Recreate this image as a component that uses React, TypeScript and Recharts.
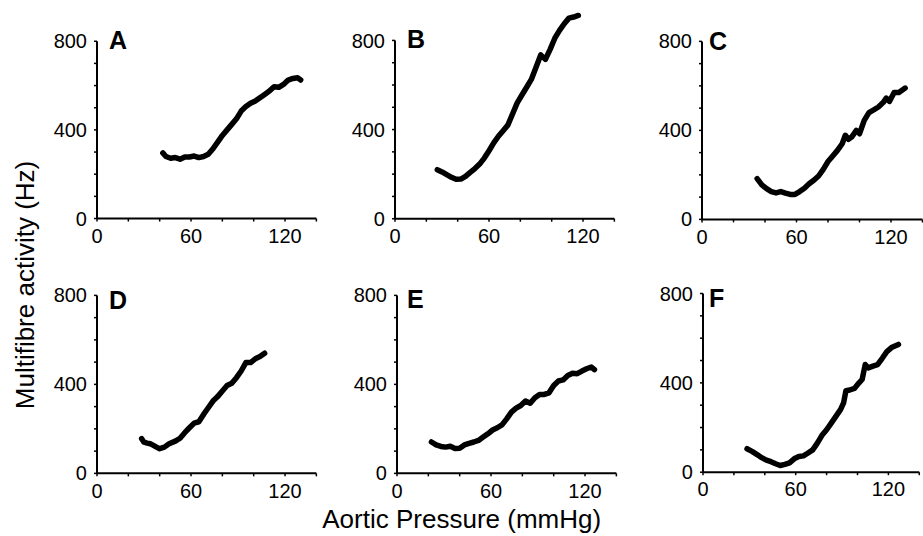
import React from 'react';
import { LineChart, Line, XAxis, YAxis, ReferenceLine } from 'recharts';

const FONT = '"Liberation Sans", Arial, Helvetica, sans-serif';

// Aortic pressure (mmHg) and multifibre activity (Hz) per panel
const aPressure = [42, 44, 47, 50, 53, 56, 59, 62, 65, 68, 71, 74, 77, 80, 83, 86, 89, 92, 95, 98, 101, 104, 107, 110, 113, 116, 119, 122, 125, 128, 130];
const aActivity = [296, 280, 272, 275, 268, 278, 278, 282, 275, 280, 290, 315, 345, 375, 400, 425, 450, 485, 505, 520, 530, 545, 560, 575, 595, 592, 605, 625, 632, 635, 625];

const bPressure = [27, 30, 33, 36, 39, 42, 45, 48, 51, 54, 57, 60, 63, 66, 69, 72, 75, 78, 81, 84, 87, 90, 93, 96, 99, 102, 105, 108, 111, 114, 117];
const bActivity = [220, 210, 198, 186, 177, 178, 190, 208, 225, 245, 272, 305, 340, 370, 395, 420, 470, 520, 555, 590, 625, 680, 735, 715, 760, 810, 845, 875, 900, 905, 912];

const cPressure = [35, 38, 41, 44, 47, 50, 53, 56, 59, 62, 65, 68, 71, 74, 77, 80, 83, 86, 89, 91, 93, 95, 98, 100, 103, 106, 109, 112, 115, 117, 119, 122, 125, 129];
const cActivity = [183, 155, 138, 125, 119, 125, 118, 112, 112, 125, 140, 160, 176, 195, 225, 260, 285, 310, 340, 378, 360, 370, 400, 385, 445, 480, 492, 505, 525, 545, 530, 570, 570, 590];

const dPressure = [28.5, 30, 32, 34, 36, 38, 40, 43, 46, 50, 53, 56, 59, 62, 65, 68, 71, 74, 77, 80, 83, 86, 89, 92, 95, 98, 101, 104, 107];
const dActivity = [156, 140, 136, 133, 126, 118, 111, 118, 133, 145, 158, 183, 205, 226, 232, 265, 295, 325, 345, 370, 395, 405, 430, 460, 498, 498, 515, 525, 540];

const ePressure = [22, 25, 28, 31, 34, 37, 40, 43, 46, 49, 52, 55, 58, 61, 64, 67, 70, 73, 76, 79, 82, 85, 88, 91, 94, 97, 100, 103, 106, 109, 112, 115, 118, 121, 124, 126];
const eActivity = [141, 128, 121, 118, 122, 112, 113, 128, 135, 141, 148, 163, 178, 195, 205, 218, 245, 275, 293, 305, 325, 315, 340, 355, 355, 362, 395, 415, 420, 440, 450, 448, 460, 470, 478, 466];

const fPressure = [28.5, 32, 35, 38, 41, 44, 47, 50, 53, 56, 59, 62, 65, 68, 71, 74, 77, 80, 83, 86, 89, 91, 92.5, 95, 98, 101, 103, 105, 107, 110, 113, 116, 119, 122, 126.5];
const fActivity = [105, 92, 79, 65, 54, 47, 38, 30, 35, 42, 60, 70, 73, 86, 100, 130, 165, 190, 220, 250, 280, 310, 365, 368, 375, 400, 415, 482, 467, 475, 482, 510, 540, 558, 572];

const xTicks = [0, 20, 40, 60, 80, 100, 120, 140];
const xTickLabels = [0, 60, 120];
const yTicks = [0, 100, 200, 300, 400, 500, 600, 700, 800];
const yTickLabels = [0, 400, 800];
const panelLetters = ['A', 'B', 'C', 'D', 'E', 'F'];
const xTitle = 'Aortic Pressure (mmHg)';
const yTitle = 'Multifibre activity (Hz)';

const build = (xs: number[], ys: number[]) => xs.map((x, i) => ({ x, y: ys[i] }));
const panelData = [
  build(aPressure, aActivity),
  build(bPressure, bActivity),
  build(cPressure, cActivity),
  build(dPressure, dActivity),
  build(ePressure, eActivity),
  build(fPressure, fActivity),
];

type Layout = { axisX: number; y0: number; y800: number; xs: number; lx: number; ly: number };
const layouts: Layout[] = [
  { axisX: 97, y0: 219, y800: 41.7, xs: 1.567, lx: 109, ly: 48.5 },
  { axisX: 395, y0: 219, y800: 40.7, xs: 1.567, lx: 407, ly: 47.5 },
  { axisX: 702, y0: 219, y800: 41, xs: 1.575, lx: 709, ly: 49.5 },
  { axisX: 97, y0: 473, y800: 295, xs: 1.567, lx: 109, ly: 308.5 },
  { axisX: 397, y0: 473, y800: 295, xs: 1.567, lx: 407, ly: 307.5 },
  { axisX: 703, y0: 472.7, y800: 294, xs: 1.545, lx: 709, ly: 307 },
];

const renderXTick = (props: any) => {
  const { x, y, payload } = props;
  if (!xTickLabels.includes(payload.value)) return <g />;
  return (
    <text x={x} y={y} dy="0.71em" textAnchor="middle" fontFamily={FONT} fontSize={20} fill="#000">
      {payload.value}
    </text>
  );
};

const renderYTick = (props: any) => {
  const { x, y, payload } = props;
  if (!yTickLabels.includes(payload.value)) return <g />;
  return (
    <text x={x} y={y} dy="0.355em" textAnchor="end" fontFamily={FONT} fontSize={20} fill="#000">
      {payload.value}
    </text>
  );
};

const YMAX = 950;

function Panel({ data, layout }: { data: { x: number; y: number }[]; layout: Layout }) {
  const pxPerY = (layout.y0 - layout.y800) / 800;
  const plotH = YMAX * pxPerY;
  const plotTop = layout.y0 - plotH;
  const plotW = 140 * layout.xs;
  const ML = 60;
  const MT = 4;
  const MR = 6;
  const XH = 40;
  const width = ML + plotW + MR;
  const height = MT + plotH + XH;
  return (
    <div style={{ position: 'absolute', left: layout.axisX - ML, top: plotTop - MT }}>
      <LineChart width={width} height={height} data={data} margin={{ top: MT, right: MR, bottom: 0, left: 0 }}>
        <XAxis
          type="number"
          dataKey="x"
          domain={[0, 140]}
          ticks={xTicks}
          interval={0}
          tickSize={3}
          tickMargin={7}
          height={XH}
          axisLine={{ stroke: '#000', strokeWidth: 2 }}
          tickLine={{ stroke: '#000', strokeWidth: 1.5 }}
          tick={renderXTick}
        />
        <YAxis
          type="number"
          domain={[0, YMAX]}
          ticks={yTicks}
          interval={0}
          width={ML}
          tickSize={3}
          tickMargin={7}
          axisLine={false}
          tickLine={{ stroke: '#000', strokeWidth: 1.5 }}
          tick={renderYTick}
        />
        <ReferenceLine segment={[{ x: 0, y: 0 }, { x: 0, y: 800 }]} stroke="#000" strokeWidth={2} />
        <Line
          type="linear"
          dataKey="y"
          stroke="#000"
          strokeWidth={5.5}
          strokeLinecap="round"
          strokeLinejoin="round"
          dot={false}
          activeDot={false}
          isAnimationActive={false}
        />
      </LineChart>
    </div>
  );
}

export default function App() {
  return (
    <div style={{ position: 'absolute', left: 0, top: 0, width: 923, height: 536, overflow: 'hidden', background: '#fff' }}>
      {panelData.map((d, i) => (
        <Panel key={i} data={d} layout={layouts[i]} />
      ))}
      <svg width={923} height={536} style={{ position: 'absolute', left: 0, top: 0, pointerEvents: 'none' }}>
        {layouts.map((l, i) => (
          <text key={i} x={l.lx} y={l.ly} fontFamily={FONT} fontWeight="bold" fontSize={25} fill="#000">
            {panelLetters[i]}
          </text>
        ))}
        <text x={461.7} y={528} textAnchor="middle" fontFamily={FONT} fontSize={26} fill="#000">
          {xTitle}
        </text>
        <text x={33.5} y={285} textAnchor="middle" transform="rotate(-90 33.5 285)" fontFamily={FONT} fontSize={26} fill="#000">
          {yTitle}
        </text>
      </svg>
    </div>
  );
}
